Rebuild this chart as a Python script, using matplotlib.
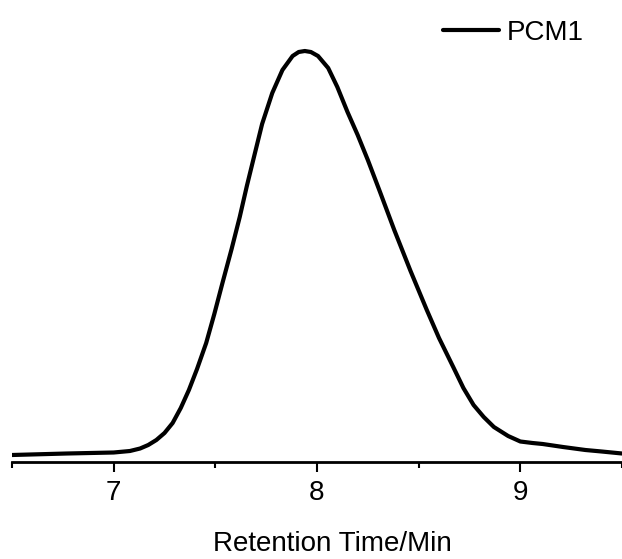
import matplotlib
matplotlib.use("Agg")
import matplotlib.pyplot as plt
from matplotlib.ticker import MultipleLocator

plt.rcParams['font.family'] = ['Liberation Sans', 'DejaVu Sans']

# retention time (min) and detector signal (arb. units)
time = [6.50, 6.77, 7.00, 7.08, 7.13, 7.17, 7.21, 7.25, 7.29, 7.33,
        7.37, 7.41, 7.455, 7.495, 7.535, 7.58, 7.62, 7.655, 7.69, 7.73,
        7.78, 7.83, 7.88, 7.91, 7.94, 7.97, 8.005, 8.055, 8.10, 8.15,
        8.20, 8.25, 8.31, 8.38, 8.46, 8.54, 8.60, 8.67, 8.72, 8.77,
        8.82, 8.87, 8.94, 9.00, 9.06, 9.11, 9.21, 9.32, 9.40, 9.50]
signal = [7, 8.5, 9.5, 11, 13.5, 17, 22, 29, 39, 54,
          72, 93, 119, 148, 179, 213, 245, 276, 305, 338,
          369, 392, 406, 410, 411, 410, 406, 394, 375, 350,
          327, 302, 270, 232, 191, 152, 124, 95, 74, 57,
          45, 35, 26, 20.5, 19, 18, 15, 12, 10.5, 8.5]
series_label = "PCM1"

fig = plt.figure(figsize=(6.22, 5.59), dpi=100)
ax = fig.add_axes([12 / 622, 1 - 462 / 559, 610 / 622, 462 / 559])

ax.plot(time, signal, color="black", lw=3, label=series_label,
        solid_joinstyle="round", solid_capstyle="round")

ax.set_xlim(6.5, 9.5)
ax.set_ylim(0, 462)

for s in ["left", "top", "right"]:
    ax.spines[s].set_visible(False)
ax.spines["bottom"].set_linewidth(2)
ax.set_yticks([])

ax.xaxis.set_major_locator(MultipleLocator(1))
ax.xaxis.set_minor_locator(MultipleLocator(0.5))
ax.tick_params(axis="x", which="major", length=7, width=1.5, labelsize=20, pad=6)
ax.tick_params(axis="x", which="minor", length=4, width=1.5)
ax.set_xlabel("Retention Time/Min", fontsize=20)
ax.xaxis.set_label_coords((332 - 12) / 610, -0.15)

ax.legend(loc="upper right", bbox_to_anchor=(584 / 622, 1 - 20 / 559),
          bbox_transform=fig.transFigure, frameon=False, fontsize=20,
          handlelength=2.0, handletextpad=0.3, borderpad=0, borderaxespad=0)

ax.patch.set_alpha(0)
fig.savefig("out.png", dpi=100)
